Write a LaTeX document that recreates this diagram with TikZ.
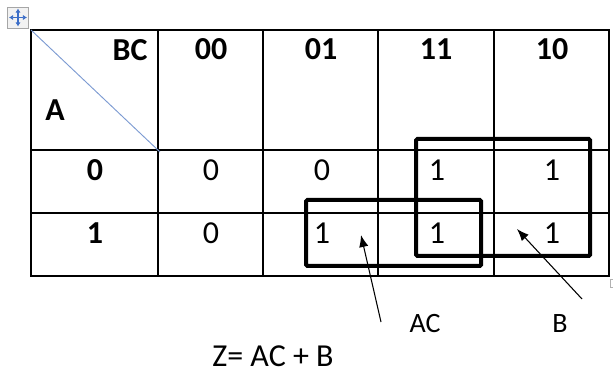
\documentclass[tikz,border=0pt]{standalone}
\usepackage{fontspec}
\setmainfont{Carlito}
\usepackage{tikz}
\usetikzlibrary{arrows.meta, positioning}
\definecolor{diagblue}{RGB}{125,155,210}
\definecolor{handleblue}{RGB}{60,110,200}
\tikzstyle{kline} = [draw, line width=0.8pt]
\tikzstyle{kbox} = [draw, line width=3pt, rounded corners=1pt]
\tikzstyle{cell} = [inner sep=0pt, font=\fontsize{24}{28}\selectfont]
\tikzstyle{hdr} = [inner sep=0pt, font=\fontsize{24}{28}\selectfont\bfseries]
\tikzstyle{note} = [inner sep=0pt, font=\fontsize{21}{25}\selectfont]

\begin{document}
\begin{tikzpicture}[x=0.75pt, y=-0.75pt, >={Latex[length=9pt,width=7pt]}]
    \useasboundingbox (0,0) rectangle (613,373);
    % table handle
    \node [draw=gray!70, fill=gray!10, minimum size=16pt, inner sep=0pt] (handle) at (18,17.5) {};
    \draw [handleblue, line width=1.2pt, {Latex[length=3pt,width=4pt]}-{Latex[length=3pt,width=4pt]}] ([xshift=1.5pt]handle.west) -- ([xshift=-1.5pt]handle.east);
    \draw [handleblue, line width=1.2pt, {Latex[length=3pt,width=4pt]}-{Latex[length=3pt,width=4pt]}] ([yshift=-1.5pt]handle.north) -- ([yshift=1.5pt]handle.south);
    % grid
    \draw [kline] (31,30) rectangle (609,276);
    \foreach \x in {158,263,378,494} \draw [kline] (\x,30) -- (\x,276);
    \foreach \y in {150,213} \draw [kline] (31,\y) -- (609,\y);
    \draw [diagblue, line width=0.7pt] (31,30) -- (160,152);
    \draw [gray!60, line width=0.5pt] (613,279) -- (610,279) -- (610,287) -- (613,287);
    % headings
    \node [hdr] (bc) at (130,50) {BC};
    \node [hdr] (a) at (55,110) {A};
    \node [hdr] (c00) at (211,49) {00};
    \node [hdr] (c01) at (321,49) {01};
    \node [hdr] (c11) at (436,49) {11};
    \node [hdr] (c10) at (552,49) {10};
    \node [hdr] (r0) at (95,170) {0};
    \node [hdr] (r1) at (95,233) {1};
    % minterms
    \node [cell] (m0) at (211,170) {0};
    \node [cell] (m1) at (322,170) {0};
    \node [cell] (m3) at (437,170) {1};
    \node [cell] (m2) at (552,170) {1};
    \node [cell] (m4) at (211,233) {0};
    \node [cell] (m5) at (322,233) {1};
    \node [cell] (m7) at (437,233) {1};
    \node [cell] (m6) at (552,233) {1};
    % groups
    \draw [kbox] (416,139) rectangle (590,256);
    \draw [kbox] (306,200) rectangle (481,266);
    % pointers
    \node [note] (ac) at (425,324) {AC};
    \node [note] (b) at (560,324) {B};
    \coordinate (actail) at (381,322);
    \coordinate (achead) at (361,235);
    \coordinate (btail) at (582,299);
    \coordinate (bhead) at (517,229);
    \draw [->, line width=0.8pt] (actail) -- (achead);
    \draw [->, line width=0.8pt] (btail) -- (bhead);
    \node [cell] (z) at (273,356) {Z= AC + B};
\end{tikzpicture}
\end{document}
